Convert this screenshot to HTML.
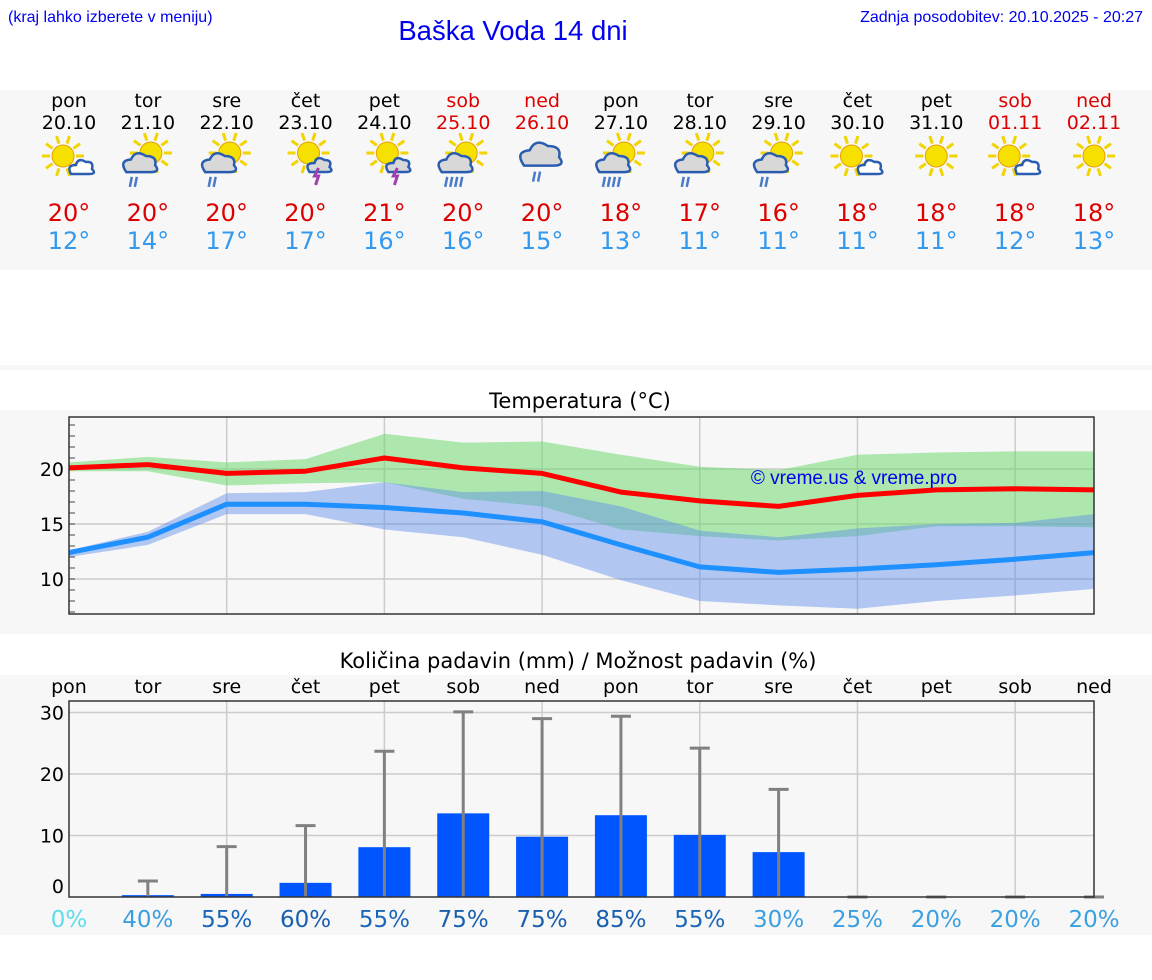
<!DOCTYPE html>
<html><head><meta charset="utf-8"><style>
body{margin:0;background:#fff;font-family:"Liberation Sans","DejaVu Sans",sans-serif}
svg text{font-family:"DejaVu Sans","Liberation Sans",sans-serif}
svg text.lib{font-family:"Liberation Sans",Arial,sans-serif}
</style></head><body>
<svg id="s" width="1152" height="975" xmlns="http://www.w3.org/2000/svg">
<text class="lib" x="8" y="22" font-size="16" fill="#0000ee">(kraj lahko izberete v meniju)</text>
<text class="lib" x="513" y="40" font-size="27.5" fill="#0000ee" text-anchor="middle">Baška Voda 14 dni</text>
<text class="lib" x="1143" y="22" font-size="16" fill="#0000ee" text-anchor="end">Zadnja posodobitev: 20.10.2025 - 20:27</text>
<rect x="0" y="90" width="1152" height="180" fill="#f7f7f7"/>
<rect x="0" y="365" width="1152" height="5" fill="#f7f7f7"/>
<rect x="0" y="410" width="1152" height="224" fill="#f7f7f7"/>
<text x="580" y="408" font-size="21" text-anchor="middle" fill="#000">Temperatura (°C)</text>
<rect x="0" y="675" width="1152" height="260" fill="#f7f7f7"/>
<text x="578" y="668" font-size="21" text-anchor="middle" fill="#000">Količina padavin (mm) / Možnost padavin (%)</text>
<g id="g"></g>
</svg>
<script>
const dayNames=['pon','tor','sre','čet','pet','sob','ned','pon','tor','sre','čet','pet','sob','ned'];
const dates=['20.10','21.10','22.10','23.10','24.10','25.10','26.10','27.10','28.10','29.10','30.10','31.10','01.11','02.11'];
const weekend=[0,0,0,0,0,1,1,0,0,0,0,0,1,1];
const icons=['sc','scr','scr','st','st','scrr','cr','scrr','scr','scr','sc','s','sc','s'];
const tMaxLabel=[20,20,20,20,21,20,20,18,17,16,18,18,18,18];
const tMinLabel=[12,14,17,17,16,16,15,13,11,11,11,11,12,13];
const tMax=[20.1,20.4,19.6,19.8,21.0,20.1,19.6,17.9,17.1,16.6,17.6,18.1,18.2,18.1];
const tMin=[12.4,13.8,16.8,16.8,16.5,16.0,15.2,13.1,11.1,10.6,10.9,11.3,11.8,12.4];
const maxHi=[20.6,21.1,20.6,20.9,23.2,22.4,22.5,21.3,20.2,19.9,21.3,21.5,21.6,21.6];
const maxLo=[19.8,19.8,18.5,18.7,18.8,17.3,16.6,14.5,13.9,13.5,13.9,14.8,14.8,14.7];
const minHi=[12.6,14.3,17.8,17.9,18.8,17.9,18.0,16.6,14.4,13.8,14.6,15.0,15.1,15.9];
const minLo=[12.0,13.1,15.9,15.9,14.5,13.8,12.2,9.9,8.0,7.6,7.3,8.0,8.5,9.1];
const rain=[0,0.3,0.5,2.3,8.1,13.6,9.8,13.3,10.1,7.3,0,0,0,0];
const rainMax=[0,2.6,8.2,11.6,23.7,30.1,29.0,29.4,24.2,17.5,0,0,0,0];
const chance=[0,40,55,60,55,75,75,85,55,30,25,20,20,20];
const tTicks=[10,15,20];
const rTicks=[0,10,20,30];

const NS='http://www.w3.org/2000/svg';
const G=document.getElementById('g');
function el(tag,attrs,parent){const e=document.createElementNS(NS,tag);for(const k in attrs)e.setAttribute(k,attrs[k]);(parent||G).appendChild(e);return e;}
const X=i=>69+i*(1094-69)/13;
const TY=v=>469-(v-20)*11;
const RY=v=>897-v*6.15;

dayNames.forEach((d,i)=>{
  const c=weekend[i]?'#dd0000':'#000';
  let t=el('text',{x:X(i),y:107,'font-size':19,'text-anchor':'middle',fill:c});t.textContent=d;
  
  
  t=el('text',{x:X(i),y:129,'font-size':19,'text-anchor':'middle',fill:c});t.textContent=dates[i];
  
  
  t=el('text',{x:X(i),y:221,'font-size':24,'text-anchor':'middle',fill:'#dd0000'});t.textContent=tMaxLabel[i]+'°';
  
  
  t=el('text',{x:X(i),y:249,'font-size':24,'text-anchor':'middle',fill:'#3399ee'});t.textContent=tMinLabel[i]+'°';
  
  
  const g=el('g',{transform:`translate(${X(i)},158)`});
  
  
  const type=icons[i];
  const big=type==='cr';
  if(!big){
    const sx=type==='s'?0:(type==='sc'?-6:3), sy=type==='sc'||type==='s'?-2:-5;
    for(let a=0;a<360;a+=36){const r=Math.PI*a/180;el('line',{x1:sx+Math.cos(r)*13,y1:sy+Math.sin(r)*13,x2:sx+Math.cos(r)*21,y2:sy+Math.sin(r)*21,stroke:'#f2d400','stroke-width':3},g);}
    el('circle',{cx:sx,cy:sy,r:11,fill:'#f5e000',stroke:'#e8a000','stroke-width':1},g);
  }
  if(type==='sc'){el('path',{d:'M2 16 q-5 -9 5 -9 q2 -8 10 -3 q8 -1 6 7 q5 5 -3 5 z',fill:'#fff',stroke:'#2a5db0','stroke-width':2.5},g);}
  if(type==='st'){el('path',{d:'M4 14 q-6 -9 5 -9 q2 -8 10 -3 q8 0 5 7 q5 5 -3 5 z',fill:'#d8d8d8',stroke:'#2a5db0','stroke-width':2.5},g);
    el('path',{d:'M13 10 l-4 8 h4 l-3 9',fill:'none',stroke:'#a040b0','stroke-width':3},g);}
  if(type==='scr'||type==='scrr'||type==='cr'){
    const s=big?1.4:1.15, ox=big?-4:-10, oy=big?-12:-2;
    el('path',{d:`M${ox-10*s} ${oy+14*s} q${-7*s} ${-10*s} ${4*s} ${-11*s} q${4*s} ${-9*s} ${13*s} ${-3*s} q${10*s} 0 ${8*s} ${8*s} q${5*s} ${6*s} ${-4*s} ${6*s} z`,fill:'#d8d8d8',stroke:'#2a5db0','stroke-width':2.5},g);
    const n=type==='scrr'?4:2;
    for(let k=0;k<n;k++){el('line',{x1:ox-6+k*5+(big?3:0),y1:oy+19*s-1,x2:ox-8+k*5+(big?3:0),y2:oy+19*s+9,stroke:'#4a7ac8','stroke-width':2.5},g);}
  }
});

const tp=el('g',{});


for(let i=2;i<13;i+=2){el('line',{x1:X(i),x2:X(i),y1:417,y2:614,stroke:'#ccc','stroke-width':1.5},tp);}
tTicks.forEach(v=>{el('line',{x1:69,x2:1094,y1:TY(v),y2:TY(v),stroke:'#ccc','stroke-width':1.5},tp);
  const t=el('text',{x:64,y:TY(v)+7,'font-size':19,'text-anchor':'end',fill:'#000'},tp);t.textContent=v;
  
  });
for(let v=7;v<=24;v++){el('line',{x1:69,x2:75,y1:TY(v),y2:TY(v),stroke:'#444','stroke-width':1},tp);}
function band(hi,lo,fill,name){let d='M'+hi.map((v,i)=>X(i)+' '+TY(v)).join(' L')+' L'+lo.map((v,i)=>X(i)+' '+TY(v)).reverse().join(' L')+'Z';
  const p=el('path',{d,fill},tp);}
band(maxHi,maxLo,'rgba(100,215,100,0.5)','max-temp-range');
band(minHi,minLo,'rgba(90,140,235,0.45)','min-temp-range');
function line(a,c,name){const p=el('polyline',{points:a.map((v,i)=>X(i)+','+TY(v)).join(' '),fill:'none',stroke:c,'stroke-width':5,'stroke-linejoin':'round'},tp);}
line(tMax,'#ff0000','max-temp-line');
line(tMin,'#1e90ff','min-temp-line');
el('rect',{x:69,y:417,width:1025,height:197,fill:'none',stroke:'#333','stroke-width':1.5},tp);
let wm=el('text',{x:854,y:484,'font-size':19,'text-anchor':'middle',fill:'#0000ee',class:'lib'},tp);wm.textContent='© vreme.us & vreme.pro';



const rp=el('g',{});


for(let i=2;i<13;i+=2){el('line',{x1:X(i),x2:X(i),y1:701,y2:897,stroke:'#ccc','stroke-width':1.5},rp);}
rTicks.forEach(v=>{if(v>0)el('line',{x1:69,x2:1094,y1:RY(v),y2:RY(v),stroke:'#ccc','stroke-width':1.5},rp);
  const t=el('text',{x:64,y:RY(v)+(v===0?-4:7),'font-size':19,'text-anchor':'end',fill:'#000'},rp);t.textContent=v;
  
  });
dayNames.forEach((d,i)=>{const t=el('text',{x:X(i),y:693,'font-size':19,'text-anchor':'middle',fill:'#000'},rp);t.textContent=d;
  
  });
rain.forEach((v,i)=>{if(v>0){const r=el('rect',{x:X(i)-26,y:RY(v),width:52,height:897-RY(v),fill:'#0055ff'},rp);
  
  }});
rainMax.forEach((v,i)=>{if(i===0)return;const g=el('g',{},rp);
  
  
  el('line',{x1:X(i),x2:X(i),y1:RY(v),y2:897,stroke:'#808080','stroke-width':3},g);
  el('line',{x1:X(i)-10,x2:X(i)+10,y1:RY(v),y2:RY(v),stroke:'#808080','stroke-width':3},g);});
el('rect',{x:69,y:701,width:1025,height:196,fill:'none',stroke:'#333','stroke-width':1.5},rp);
const pc=c=>c===0?'#5ddcec':c<=20?'#3aa0e0':c<=40?'#3a9ee0':c<=55?'#1a66b8':'#1a5fae';
chance.forEach((c,i)=>{const t=el('text',{x:X(i),y:927,'font-size':23,'text-anchor':'middle',fill:pc(c)},rp);t.textContent=c+'%';
  
  });
</script>
</body></html>
